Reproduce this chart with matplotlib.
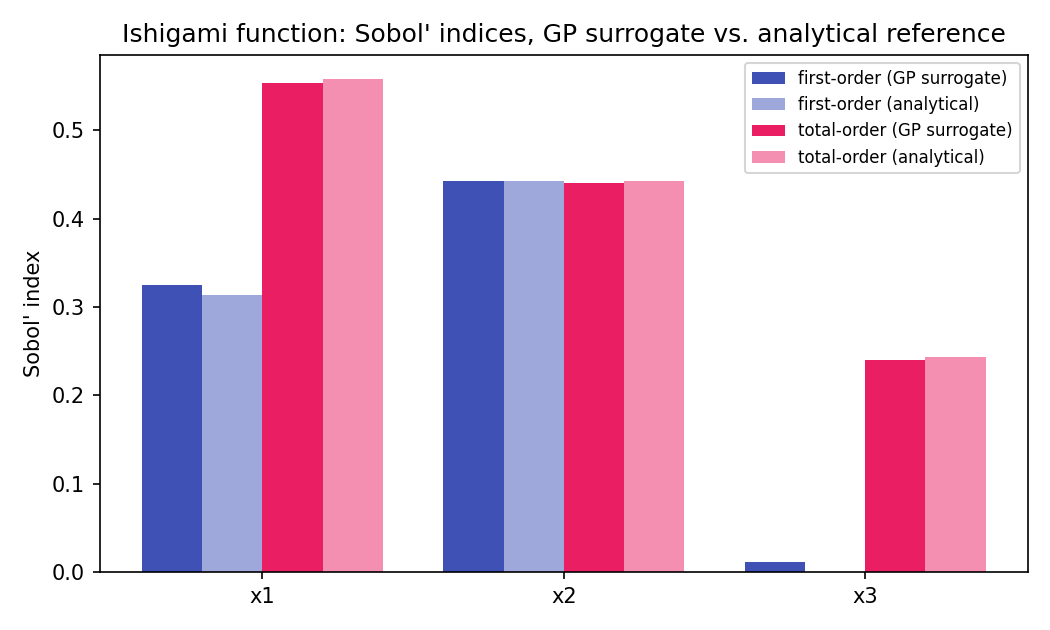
import numpy as np
import matplotlib
matplotlib.use("Agg")
import matplotlib.pyplot as plt

# Sobol' indices for the Ishigami function
params = ["x1", "x2", "x3"]
first_gp = [0.325, 0.443, 0.011]
first_ref = [0.3139, 0.4424, 0.0]
total_gp = [0.554, 0.440, 0.240]
total_ref = [0.5576, 0.4424, 0.2437]

series = [
    (first_gp, "first-order (GP surrogate)", "#3F51B5"),
    (first_ref, "first-order (analytical)", "#9FA8DA"),
    (total_gp, "total-order (GP surrogate)", "#E91E63"),
    (total_ref, "total-order (analytical)", "#F48FB1"),
]

x = np.arange(len(params))
w = 0.2

fig, ax = plt.subplots(figsize=(7, 4.2), dpi=150)
for i, (vals, lab, col) in enumerate(series):
    ax.bar(x + (i - 1.5) * w, vals, w, label=lab, color=col)

ax.set_xticks(x)
ax.set_xticklabels(params)
ax.set_ylabel("Sobol' index")
ax.set_title("Ishigami function: Sobol' indices, GP surrogate vs. analytical reference")
ax.legend(fontsize=8)
fig.subplots_adjust(left=0.095, right=0.979, top=0.913, bottom=0.092)
fig.savefig("out.png")
